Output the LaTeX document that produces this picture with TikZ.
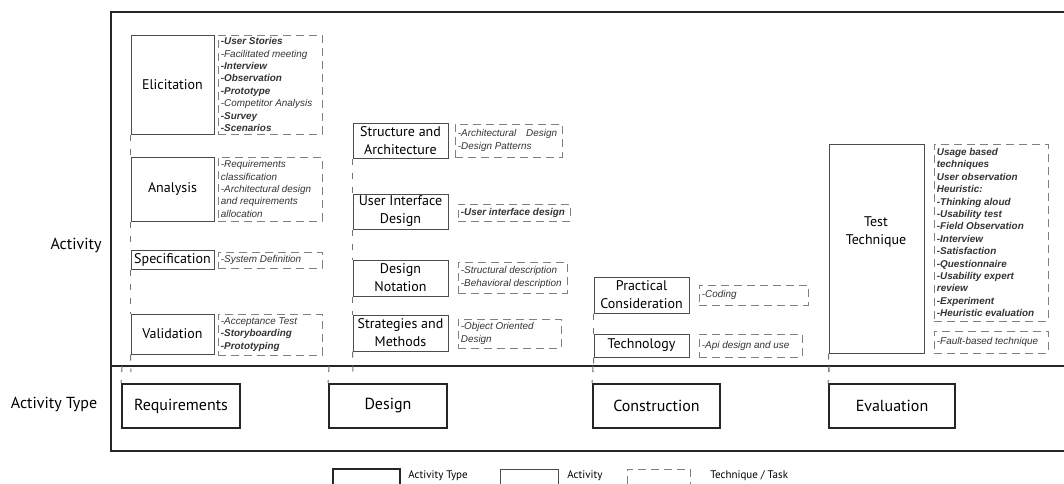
\documentclass[tikz,border=0pt]{standalone}
\usepackage{fontspec}
\setmainfont{PT Sans}
\newfontfamily\techfont{Liberation Sans}
\usetikzlibrary{fit}
\begin{document}
\begin{tikzpicture}[x=0.5pt,y=-0.5pt,
  frame/.style={line width=1pt, draw=black!85},
  typebox/.style={draw=black!85, line width=0.9pt, inner sep=0pt},
  typetext/.style={inner sep=0pt, font=\fontsize{8}{9}\selectfont},
  actbox/.style={draw=black!70, line width=0.5pt, inner sep=0pt},
  acttext/.style={inner sep=0pt, align=center, font=\fontsize{7}{9}\selectfont},
  techbox/.style={draw=black!50, line width=0.5pt, dash pattern=on 4pt off 2.5pt, inner sep=0pt},
  techtext/.style={anchor=west, inner sep=0pt, align=left, font=\techfont\itshape\fontsize{4.95}{6.2}\selectfont, text=black!80},
  conn/.style={draw=black!55, line width=0.5pt, dash pattern=on 3pt off 4pt},
  side/.style={font=\fontsize{8}{9}\selectfont},
  legtext/.style={anchor=west, inner sep=0pt, font=\fontsize{5.5}{6}\selectfont}
]
\path[use as bounding box] (0,0) rectangle (1064,483);
\clip (0,0) rectangle (1064,483);

% frame
\draw[frame] (1064,12) -- (111,12) -- (111,451) -- (1064,451);
\draw[frame] (111,366) -- (1064,366);
\node[side] (lblA) at (76,245) {Activity};
\node[side] (lblT) at (54,404) {Activity Type};

% ---------- Requirements ----------
\node[actbox, fit={(131,35)(214,134)}] (elic) {};
\node[acttext] at (elic.center) {Elicitation};
\node[techbox, fit={(218,35)(322,134)}] (elicT) {};
\node[techtext] at ([xshift=1.5pt]elicT.west) {\textbf{-User Stories}\\-Facilitated meeting\\\textbf{-Interview}\\\textbf{-Observation}\\\textbf{-Prototype}\\-Competitor Analysis\\\textbf{-Survey}\\\textbf{-Scenarios}};

\node[actbox, fit={(131,157)(214,221)}] (anal) {};
\node[acttext] at (anal.center) {Analysis};
\node[techbox, fit={(218,157)(322,221)}] (analT) {};
\node[techtext] at ([xshift=1.5pt]analT.west) {-Requirements\\classification\\-Architectural design\\and requirements\\allocation};

\node[actbox, fit={(131,250)(214,269)}] (spec) {};
\node[acttext] at (spec.center) {Specification};
\node[techbox, fit={(218,252)(322,268)}] (specT) {};
\node[techtext] at ([xshift=1.5pt]specT.west) {-System Definition};

\node[actbox, fit={(131,314)(214,354)}] (valid) {};
\node[acttext] at (valid.center) {Validation};
\node[techbox, fit={(218,314)(322,355)}] (validT) {};
\node[techtext] at ([xshift=1.5pt]validT.west) {-Acceptance Test\\\textbf{-Storyboarding}\\\textbf{-Prototyping}};

\node[typebox, fit={(122,384)(240,428)}] (req) {};
\node[typetext] at (req.center) {Requirements};
\coordinate (reqE) at (131,372);
\coordinate (reqS) at (122,366);
\draw[conn] (elic.south west) -- (anal.north west);
\draw[conn] (anal.south west) -- (spec.north west);
\draw[conn] (spec.south west) -- (valid.north west);
\draw[conn] (valid.south west) -- (reqE);
\draw[conn] (reqS) -- (req.north west);

% ---------- Design ----------
\node[actbox, fit={(353,123)(448,158)}] (sa) {};
\node[acttext] at (sa.center) {Structure and\\Architecture};
\node[techbox, fit={(455,124)(562,157)}] (saT) {};
\node[techtext] at ([xshift=1.5pt]saT.west) {-Architectural\hspace{5pt}Design\\-Design Patterns};

\node[actbox, fit={(353,194)(448,229)}] (ui) {};
\node[acttext] at (ui.center) {User Interface\\Design};
\node[techbox, fit={(458,204)(570,221)}] (uiT) {};
\node[techtext] at ([xshift=1.5pt]uiT.west) {\textbf{-User interface design}};

\node[actbox, fit={(353,260)(448,296)}] (dn) {};
\node[acttext] at (dn.center) {Design\\Notation};
\node[techbox, fit={(458,262)(567,293)}] (dnT) {};
\node[techtext] at ([xshift=1.5pt]dnT.west) {-Structural description\\-Behavioral description};

\node[actbox, fit={(353,315)(448,351)}] (sm) {};
\node[acttext] at (sm.center) {Strategies and\\Methods};
\node[techbox, fit={(458,319)(561,348)}] (smT) {};
\node[techtext] at ([xshift=1.5pt]smT.west) {-Object Oriented\\Design};

\node[typebox, fit={(329,384)(447,428)}] (des) {};
\node[typetext] at (des.center) {Design};
\coordinate (desE) at (353,372);
\coordinate (desS) at (329,366);
\draw[conn] (sa.south west) -- (ui.north west);
\draw[conn] (ui.south west) -- (dn.north west);
\draw[conn] (dn.south west) -- (sm.north west);
\draw[conn] (sm.south west) -- (desE);
\draw[conn] (desS) -- (des.north west);

% ---------- Construction ----------
\node[actbox, fit={(594,277)(689,313)}] (pc) {};
\node[acttext] at (pc.center) {Practical\\Consideration};
\node[techbox, fit={(699,285)(808,305)}] (pcT) {};
\node[techtext] at ([xshift=1.5pt]pcT.west) {-Coding};

\node[actbox, fit={(594,334)(689,357)}] (tech) {};
\node[acttext] at (tech.center) {Technology};
\node[techbox, fit={(699,334)(802,357)}] (techT) {};
\node[techtext] at ([xshift=1.5pt]techT.west) {-Api design and use};

\node[typebox, fit={(593,384)(720,428)}] (con) {};
\node[typetext] at (con.center) {Construction};
\coordinate (conE) at (594,372);
\coordinate (conS) at (593,366);
\draw[conn] (pc.south west) -- (tech.north west);
\draw[conn] (tech.south west) -- (conE);
\draw[conn] (conS) -- (con.north west);

% ---------- Evaluation ----------
\node[actbox, fit={(829,144)(924,353)}] (tt) {};
\node[acttext] (ttL) at (876,232) {Test\\Technique};
\node[techbox, fit={(934,144)(1048,321)}] (ttT) {};
\node[techtext] at ([xshift=1.5pt]ttT.west) {\textbf{Usage based}\\\textbf{techniques}\\\textbf{User observation}\\\textbf{Heuristic:}\\\textbf{-Thinking aloud}\\\textbf{-Usability test}\\\textbf{-Field Observation}\\\textbf{-Interview}\\\textbf{-Satisfaction}\\\textbf{-Questionnaire}\\\textbf{-Usability expert}\\\textbf{review}\\\textbf{-Experiment}\\\textbf{-Heuristic evaluation}};
\node[techbox, fit={(934,331)(1048,353)}] (fbT) {};
\node[techtext] at ([xshift=1.5pt]fbT.west) {-Fault-based technique};

\node[typebox, fit={(829,384)(955,428)}] (eva) {};
\node[typetext] at (eva.center) {Evaluation};
\coordinate (evaE) at (829,372);
\coordinate (evaS) at (829,366);
\draw[conn] (tt.south west) -- (evaE);
\draw[conn] (evaS) -- (eva.north west);

% ---------- Legend ----------
\node[typebox, fit={(333,469)(400,492)}] (lgT) {};
\node[legtext] (lgTt) at (408,476) {Activity Type};
\node[actbox, fit={(500,469)(558,492)}] (lgA) {};
\node[legtext] (lgAt) at (567,476) {Activity};
\node[techbox, fit={(627,469)(690,492)}] (lgK) {};
\node[legtext] (lgKt) at (710,476) {Technique / Task};
\end{tikzpicture}
\end{document}
